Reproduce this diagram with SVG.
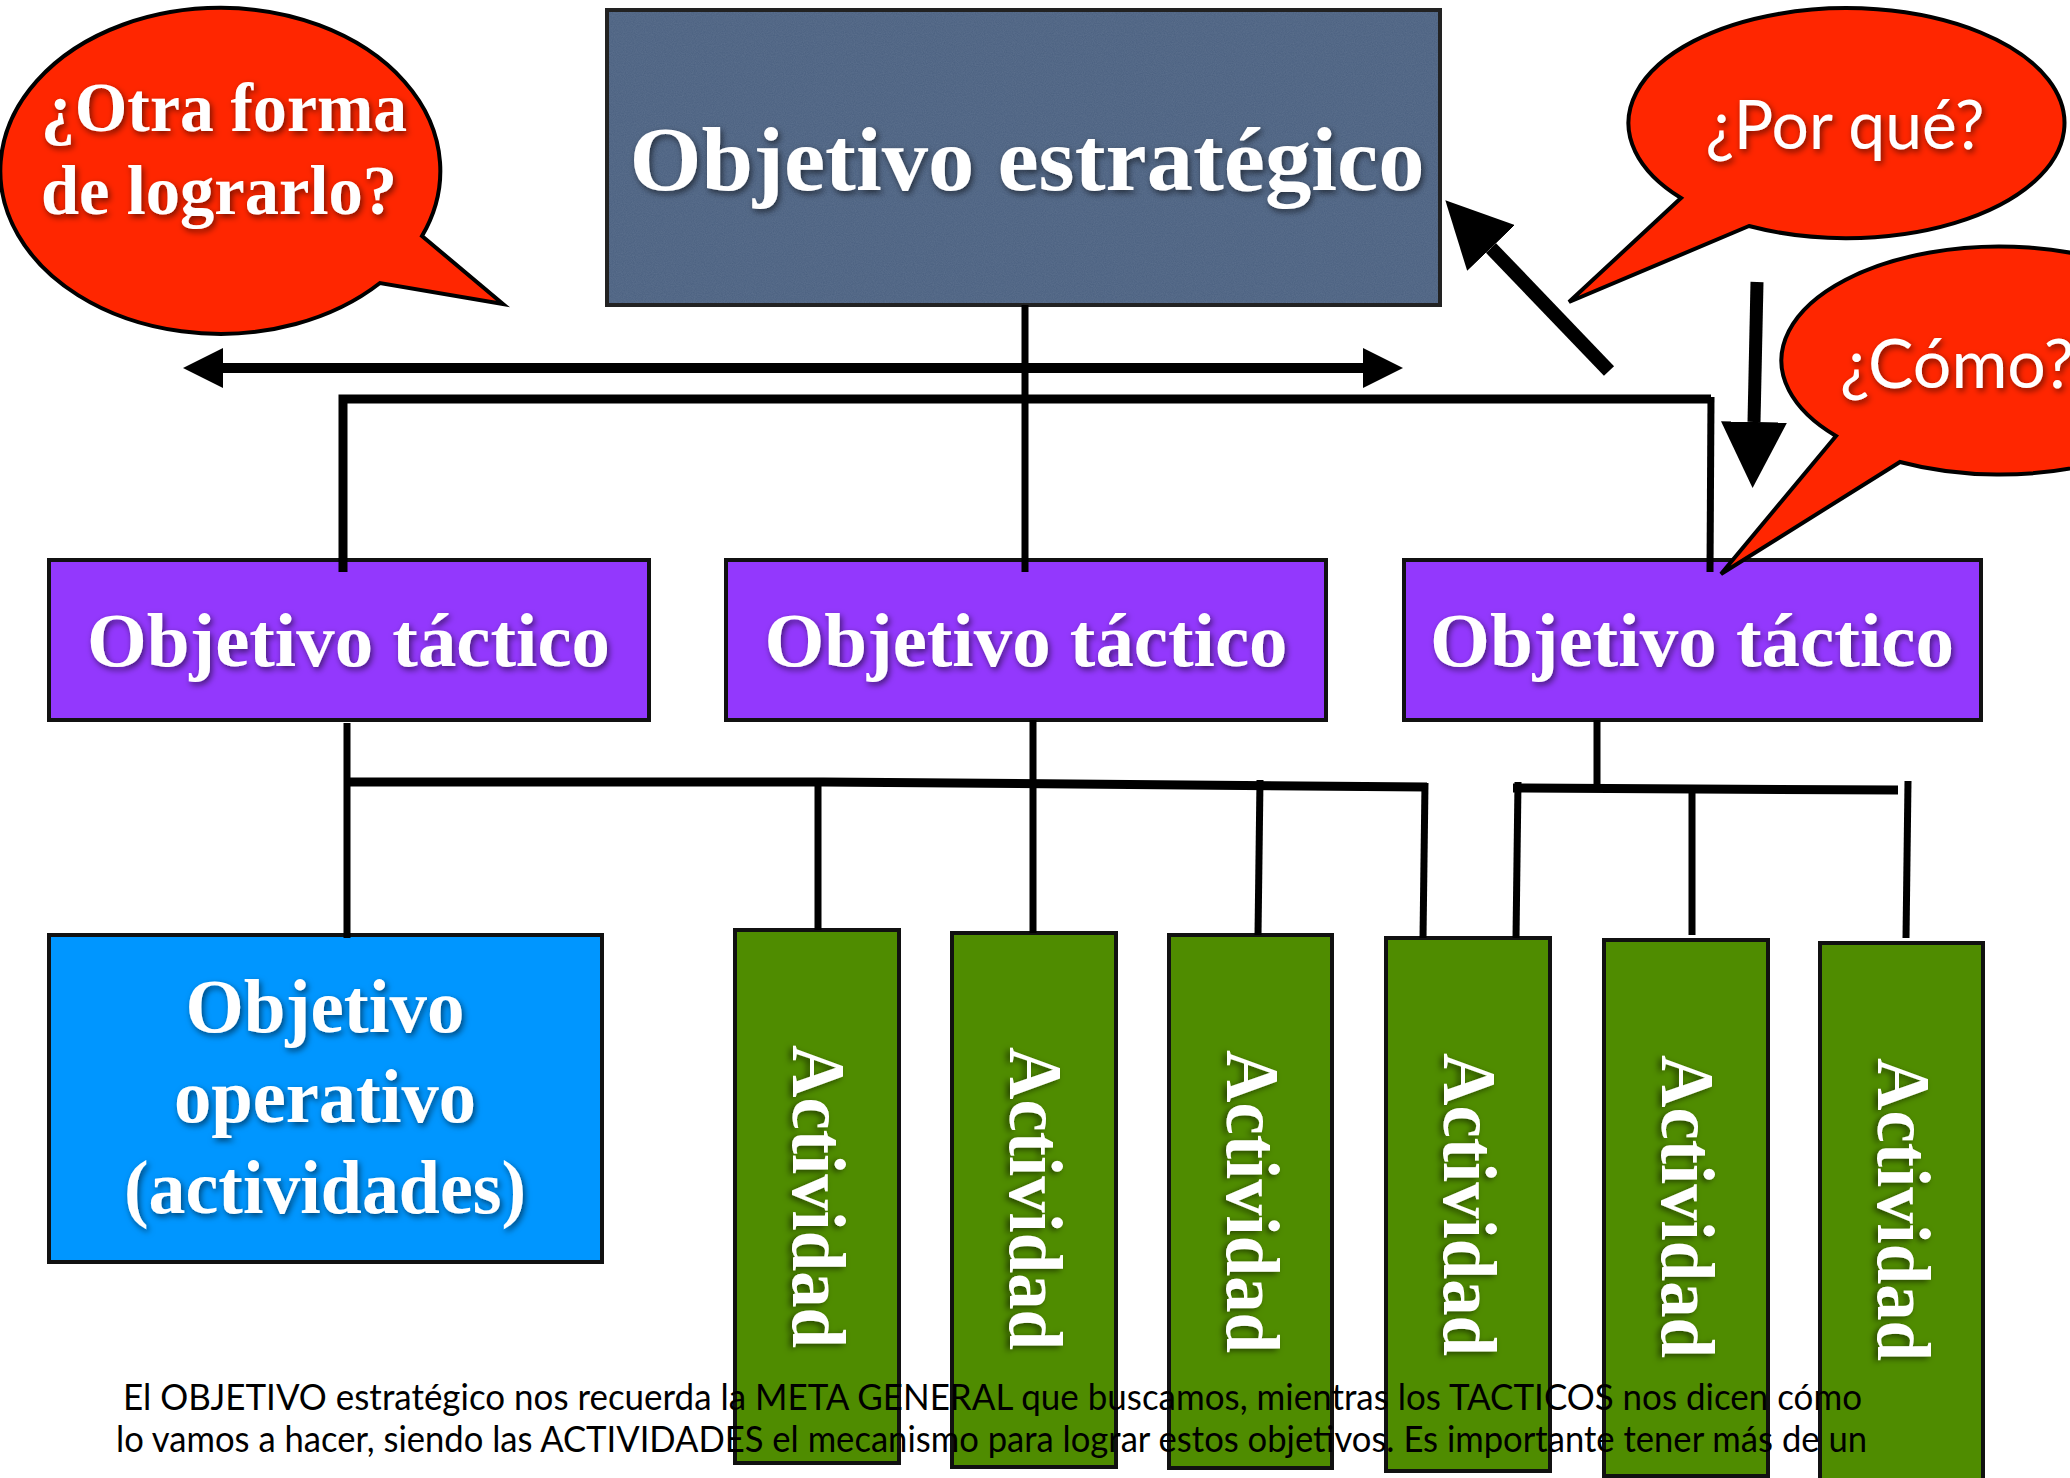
<svg xmlns="http://www.w3.org/2000/svg" width="2070" height="1478" viewBox="0 0 2070 1478">
<defs>
  <filter id="ts" x="-10%" y="-30%" width="120%" height="160%">
    <feDropShadow dx="2" dy="3" stdDeviation="3" flood-color="#000" flood-opacity="0.55"/>
  </filter>
  <filter id="noise" x="0" y="0" width="100%" height="100%">
    <feTurbulence type="fractalNoise" baseFrequency="0.9" numOctaves="2" seed="3" result="n"/>
    <feColorMatrix in="n" type="matrix" values="0 0 0 0 0.2  0 0 0 0 0.27  0 0 0 0 0.38  0 0 0 0.35 0" result="c"/>
    <feComposite in="c" in2="SourceGraphic" operator="in"/>
  </filter>
  <marker id="arrowS" viewBox="0 0 10 10" refX="0" refY="5" markerWidth="40" markerHeight="42" markerUnits="userSpaceOnUse" orient="auto-start-reverse">
    <path d="M0,0 L10,5 L0,10 Z" fill="#000"/>
  </marker>
  <marker id="arrowL" viewBox="0 0 10 10" refX="0" refY="5" markerWidth="66" markerHeight="66" markerUnits="userSpaceOnUse" orient="auto">
    <path d="M0,0 L10,5 L0,10 Z" fill="#000"/>
  </marker>
</defs>
<style>
  .serif { font-family: "Liberation Serif", "Times New Roman", serif; font-weight: bold; fill: #fff; }
  .sans { font-family: Lato, "Open Sans", sans-serif; fill: #fff; }
  .cap { font-family: Lato, "Open Sans", sans-serif; fill: #000; font-size: 36px; }
  .box { stroke: #111; stroke-width: 4; }
  .tact { fill: #9338fd; }
  .act { fill: #4f8c00; }
  .bubble { fill: #ff2600; stroke: #000; stroke-width: 4; stroke-linejoin: miter; }
  .ln { fill: none; stroke: #000; stroke-width: 7; }
  .thick { fill: none; stroke: #000; stroke-width: 9; }
</style>
<rect width="2070" height="1478" fill="#fff"/>

<!-- Strategic objective -->
<g id="node-strategic">
  <rect x="607" y="10" width="833" height="295" fill="#4a6080" stroke="#222" stroke-width="4"/>
  <rect x="609" y="12" width="829" height="291" fill="#4a6080" filter="url(#noise)"/>
  <text class="serif" x="1027" y="190" font-size="92" text-anchor="middle" textLength="795" lengthAdjust="spacingAndGlyphs" filter="url(#ts)">Objetivo estratégico</text>
</g>

<!-- Tactical objectives -->
<g id="node-tactical-1">
  <rect class="box tact" x="49" y="560" width="600" height="160"/>
  <text class="serif" x="348.5" y="666" font-size="76" text-anchor="middle" textLength="523" lengthAdjust="spacingAndGlyphs" filter="url(#ts)">Objetivo táctico</text>
</g>
<g id="node-tactical-2">
  <rect class="box tact" x="726" y="560" width="600" height="160"/>
  <text class="serif" x="1026" y="666" font-size="76" text-anchor="middle" textLength="523" lengthAdjust="spacingAndGlyphs" filter="url(#ts)">Objetivo táctico</text>
</g>
<g id="node-tactical-3">
  <rect class="box tact" x="1404" y="560" width="577" height="160"/>
  <text class="serif" x="1692" y="666" font-size="76" text-anchor="middle" textLength="524" lengthAdjust="spacingAndGlyphs" filter="url(#ts)">Objetivo táctico</text>
</g>

<!-- Operative objective -->
<g id="node-operative">
  <rect class="box" x="49" y="935" width="553" height="327" fill="#0096ff"/>
  <g class="serif" font-size="76" text-anchor="middle" filter="url(#ts)">
    <text x="325" y="1032" textLength="279" lengthAdjust="spacingAndGlyphs">Objetivo</text>
    <text x="325" y="1122" textLength="302" lengthAdjust="spacingAndGlyphs">operativo</text>
    <text x="325" y="1213" textLength="402" lengthAdjust="spacingAndGlyphs">(actividades)</text>
  </g>
</g>

<!-- Activities -->
<g id="node-activity-1">
  <rect class="box act" x="735" y="930" width="164" height="533"/>
  <text class="serif" font-size="76" transform="translate(793,1045) rotate(90)" textLength="303" lengthAdjust="spacingAndGlyphs" filter="url(#ts)">Actividad</text>
</g>
<g id="node-activity-2">
  <rect class="box act" x="952" y="933" width="164" height="534"/>
  <text class="serif" font-size="76" transform="translate(1010,1047) rotate(90)" textLength="303" lengthAdjust="spacingAndGlyphs" filter="url(#ts)">Actividad</text>
</g>
<g id="node-activity-3">
  <rect class="box act" x="1169" y="935" width="163" height="533"/>
  <text class="serif" font-size="76" transform="translate(1227,1050) rotate(90)" textLength="303" lengthAdjust="spacingAndGlyphs" filter="url(#ts)">Actividad</text>
</g>
<g id="node-activity-4">
  <rect class="box act" x="1386" y="938" width="164" height="533"/>
  <text class="serif" font-size="76" transform="translate(1444,1053) rotate(90)" textLength="303" lengthAdjust="spacingAndGlyphs" filter="url(#ts)">Actividad</text>
</g>
<g id="node-activity-5">
  <rect class="box act" x="1604" y="940" width="164" height="536"/>
  <text class="serif" font-size="76" transform="translate(1662,1055) rotate(90)" textLength="303" lengthAdjust="spacingAndGlyphs" filter="url(#ts)">Actividad</text>
</g>
<g id="node-activity-6">
  <rect class="box act" x="1820" y="943" width="163" height="540"/>
  <text class="serif" font-size="76" transform="translate(1878,1058) rotate(90)" textLength="303" lengthAdjust="spacingAndGlyphs" filter="url(#ts)">Actividad</text>
</g>

<!-- Connectors -->
<g id="connectors">
  <line class="ln" x1="1025" y1="305" x2="1025" y2="572"/>
  <polyline class="thick" points="343,572 343,399 1711,399" stroke-width="8"/>
  <line class="ln" x1="1711" y1="397" x2="1710" y2="572"/>
  <line class="ln" x1="347" y1="723" x2="347" y2="938"/>
  <polyline class="thick" points="347,782 823,782 1427,787"/>
  <line class="ln" x1="818" y1="782" x2="818" y2="930"/>
  <line class="ln" x1="1033" y1="720" x2="1033" y2="933"/>
  <line class="ln" x1="1260" y1="780" x2="1258" y2="935"/>
  <line class="ln" x1="1425" y1="783" x2="1423" y2="938"/>
  <line class="ln" x1="1597" y1="720" x2="1597" y2="788"/>
  <line class="thick" x1="1513" y1="788" x2="1898" y2="790"/>
  <line class="ln" x1="1518" y1="782" x2="1516" y2="938"/>
  <line class="ln" x1="1692" y1="789" x2="1692" y2="935"/>
  <line class="ln" x1="1908" y1="781" x2="1906" y2="938"/>
  <!-- arrows -->
  <line x1="223" y1="368" x2="1363" y2="368" stroke="#000" stroke-width="10" marker-start="url(#arrowS)" marker-end="url(#arrowS)"/>
  <line x1="1609" y1="371" x2="1491" y2="248" stroke="#000" stroke-width="14" marker-end="url(#arrowL)"/>
  <line x1="1757" y1="282" x2="1754" y2="422" stroke="#000" stroke-width="13" marker-end="url(#arrowL)"/>
</g>

<!-- Callouts -->
<g id="callout-otra-forma">
  <path class="bubble" d="M422,236 L503,304 L380,283 A220,163 0 1 1 422,236 Z"/>
  <g class="serif" font-size="70" filter="url(#ts)">
    <text x="41" y="131" textLength="366" lengthAdjust="spacingAndGlyphs">¿Otra forma</text>
    <text x="41" y="214" textLength="356" lengthAdjust="spacingAndGlyphs">de lograrlo?</text>
  </g>
</g>
<g id="callout-por-que">
  <path class="bubble" d="M1681,198 L1569,302 L1749,226 A218,115 0 1 0 1681,198 Z"/>
  <text class="sans" x="1845" y="149" font-size="68" text-anchor="middle" textLength="279" lengthAdjust="spacingAndGlyphs" filter="url(#ts)">¿Por qué?</text>
</g>
<g id="callout-como">
  <path class="bubble" d="M1836,436 L1721,574 L1900,462 A218,114 0 1 0 1836,436 Z"/>
  <text class="sans" x="1840" y="388" font-size="68" filter="url(#ts)">¿Cómo?</text>
</g>

<!-- Caption -->
<g id="caption">
  <text class="cap" x="123" y="1410" textLength="1739" lengthAdjust="spacingAndGlyphs">El OBJETIVO estratégico nos recuerda la META GENERAL que buscamos, mientras los TACTICOS nos dicen cómo</text>
  <text class="cap" x="116" y="1452" textLength="1751" lengthAdjust="spacingAndGlyphs">lo vamos a hacer, siendo las ACTIVIDADES el mecanismo para lograr estos objetivos. Es importante tener más de un</text>
</g>
</svg>
